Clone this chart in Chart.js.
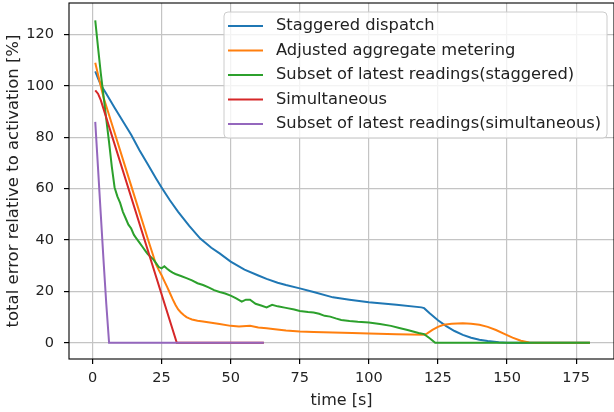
<!DOCTYPE html>
<html>
<head>
<meta charset="utf-8">
<script src="https://cdn.jsdelivr.net/npm/chart.js@4.4.1/dist/chart.umd.min.js"></script>
<style>
  html, body { margin: 0; padding: 0; background: #fff; }
  canvas { display: block; }
</style>
</head>
<body>
<canvas id="errorChart" width="614" height="412"></canvas>
<script>
// tick labels
const xTicks = [0, 25, 50, 75, 100, 125, 150, 175];
const yTicks = [0, 20, 40, 60, 80, 100, 120];

const seriesLabels = [
  'Staggered dispatch',
  'Adjusted aggregate metering',
  'Subset of latest readings(staggered)',
  'Simultaneous',
  'Subset of latest readings(simultaneous)'
];
const seriesColors = ['#1f77b4', '#ff7f0e', '#2ca02c', '#d62728', '#9467bd'];

// Staggered dispatch
const staggeredT   = [1, 2, 3, 5, 8, 10, 12, 14, 17, 20, 23, 25, 28, 31, 35, 39, 43, 46, 50, 55, 60, 63, 67, 70, 75, 80, 87, 93, 100, 110, 119, 120, 122, 125, 128, 131, 134, 137, 140, 143, 147, 150, 180];
const staggeredErr = [105.7, 103, 100.5, 97, 91.5, 88, 84.5, 81, 75, 69.5, 64, 60.5, 55.5, 51, 45.5, 40.6, 37, 34.8, 31.6, 28.5, 26.2, 24.9, 23.4, 22.5, 21.2, 19.8, 17.7, 16.8, 15.8, 14.8, 13.8, 13.5, 11.5, 8.8, 6.5, 4.6, 3.1, 2, 1.2, 0.7, 0.2, 0, 0];

// Adjusted aggregate metering
const adjustedT   = [1, 2, 3, 4, 5, 8, 12, 16, 20, 23, 24, 25, 26, 27, 28, 29, 30, 31, 32, 33, 34, 35, 36, 38, 40, 43, 46, 50, 53, 57, 60, 63, 66, 70, 75, 80, 87, 94, 100, 110, 120, 121, 123, 125, 127, 130, 134, 137, 140, 143, 146, 149, 152, 155, 158, 160, 180];
const adjustedErr = [109, 104.5, 100, 95.5, 92.1, 81.8, 68, 54.3, 40.5, 30.5, 28.3, 26.3, 24, 21.8, 19.4, 17, 14.8, 13, 11.8, 10.8, 10, 9.5, 9.1, 8.6, 8.3, 7.8, 7.3, 6.6, 6.4, 6.6, 6, 5.7, 5.3, 4.8, 4.4, 4.2, 4, 3.8, 3.6, 3.3, 3.1, 3.6, 5, 6.2, 7, 7.4, 7.6, 7.4, 7, 6.2, 5, 3.5, 2, 0.8, 0.1, 0, 0];

// Subset of latest readings (staggered)
const subsetStagT   = [1, 2, 3, 4, 5, 6, 7, 8, 9, 10, 11, 12, 13, 14, 15, 16, 17, 18, 19, 20, 21, 22, 23, 24, 25, 26, 27, 28, 29, 30, 32, 34, 36, 38, 40, 42, 44, 46, 48, 50, 52, 54, 55.5, 57, 59, 61, 63, 65, 67, 70, 73, 75, 78, 80, 82, 84, 86, 88, 90, 93, 96, 100, 104, 108, 111, 114, 116, 118, 120, 122, 124, 180];
const subsetStagErr = [125.5, 115, 105, 96, 87, 78, 68.5, 60.5, 57, 54.5, 51, 48.5, 46, 44.5, 42, 40.5, 39, 37.5, 36, 34.5, 33.5, 32.5, 31, 29.5, 29, 29.8, 28.8, 28, 27.3, 26.8, 26, 25.2, 24.3, 23.2, 22.5, 21.6, 20.5, 19.8, 19.2, 18.4, 17.3, 16, 16.8, 16.8, 15.2, 14.5, 13.8, 14.8, 14.2, 13.6, 13, 12.4, 12, 11.8, 11.3, 10.5, 10.2, 9.5, 8.9, 8.5, 8.2, 7.9, 7.3, 6.6, 5.8, 5, 4.4, 3.8, 3.4, 1.8, 0, 0];

// Simultaneous
const simultT   = [1, 2, 3, 30.5, 62];
const simultErr = [98.3, 97, 94.5, 0, 0];

// Subset of latest readings (simultaneous)
const subsetSimT   = [1, 2, 3, 4, 5, 6, 62];
const subsetSimErr = [86, 68, 50, 32, 15, 0, 0];

const seriesT   = [staggeredT, adjustedT, subsetStagT, simultT, subsetSimT];
const seriesErr = [staggeredErr, adjustedErr, subsetStagErr, simultErr, subsetSimErr];

const FONT = '"DejaVu Sans", sans-serif';

const datasets = seriesLabels.map((label, i) => ({
  label: label,
  data: seriesT[i].map((t, k) => ({x: t, y: seriesErr[i][k]})),
  borderColor: seriesColors[i],
  backgroundColor: seriesColors[i],
  borderWidth: 2,
  pointRadius: 0,
  tension: 0,
  fill: false,
  order: seriesLabels.length - i   // later series on top, like matplotlib
}));

// black frame round the plot + boxed legend inside the plot
const frameAndLegend = {
  id: 'frameAndLegend',
  afterDatasetsDraw(chart) {
    const ctx = chart.ctx;
    const a = chart.chartArea;
    ctx.save();
    ctx.strokeStyle = '#000';
    ctx.lineWidth = 1.1;
    ctx.strokeRect(a.left, a.top, a.right - a.left, a.bottom - a.top);

    // legend
    const bx = 224, by = 12, bw = 383, bh = 126, r = 4;
    ctx.beginPath();
    ctx.moveTo(bx + r, by);
    ctx.arcTo(bx + bw, by, bx + bw, by + bh, r);
    ctx.arcTo(bx + bw, by + bh, bx, by + bh, r);
    ctx.arcTo(bx, by + bh, bx, by, r);
    ctx.arcTo(bx, by, bx + bw, by, r);
    ctx.closePath();
    ctx.fillStyle = 'rgba(255,255,255,0.8)';
    ctx.fill();
    ctx.strokeStyle = '#cccccc';
    ctx.lineWidth = 1;
    ctx.stroke();

    ctx.font = '16.3px ' + FONT;
    ctx.textBaseline = 'middle';
    ctx.textAlign = 'left';
    chart.data.datasets.forEach((ds, i) => {
      const y = 26 + i * 24.5;
      ctx.strokeStyle = ds.borderColor;
      ctx.lineWidth = 2;
      ctx.beginPath();
      ctx.moveTo(228, y);
      ctx.lineTo(263, y);
      ctx.stroke();
      ctx.fillStyle = '#222';
      ctx.fillText(ds.label, 276, y);
    });
    ctx.restore();
  }
};

const ctx = document.getElementById('errorChart').getContext('2d');
new Chart(ctx, {
  type: 'line',
  data: {datasets: datasets},
  options: {
    responsive: false,
    animation: false,
    devicePixelRatio: 1,
    layout: {padding: {top: 3, right: 0, bottom: 0, left: 0}},
    plugins: {
      legend: {display: false},
      tooltip: {enabled: false}
    },
    scales: {
      x: {
        type: 'linear',
        min: -8.5,
        max: 188.7,
        afterBuildTicks: s => { s.ticks = xTicks.map(v => ({value: v})); },
        afterFit: s => { s.height = 53; s.paddingLeft = 0; s.paddingRight = 0; },
        grid: {color: '#c4c4c4', lineWidth: 1.2, tickColor: '#000', tickLength: 5},
        border: {display: false},
        ticks: {padding: 6, color: '#222', font: {family: FONT, size: 14.5}, maxRotation: 0},
        title: {display: true, text: 'time [s]', color: '#222', font: {family: FONT, size: 16}, padding: {top: 0, bottom: 2}}
      },
      y: {
        type: 'linear',
        min: -6.3,
        max: 132.3,
        afterBuildTicks: s => { s.ticks = yTicks.map(v => ({value: v})); },
        afterFit: s => { s.width = 69; s.paddingTop = 0; s.paddingBottom = 0; },
        grid: {color: '#c4c4c4', lineWidth: 1.2, tickColor: '#000', tickLength: 5},
        border: {display: false},
        ticks: {padding: 10, color: '#222', font: {family: FONT, size: 14.5}},
        title: {display: true, text: 'total error relative to activation [%]', color: '#222', font: {family: FONT, size: 16.5}, padding: {top: 4, bottom: 0}}
      }
    }
  },
  plugins: [frameAndLegend]
});
</script>
</body>
</html>
